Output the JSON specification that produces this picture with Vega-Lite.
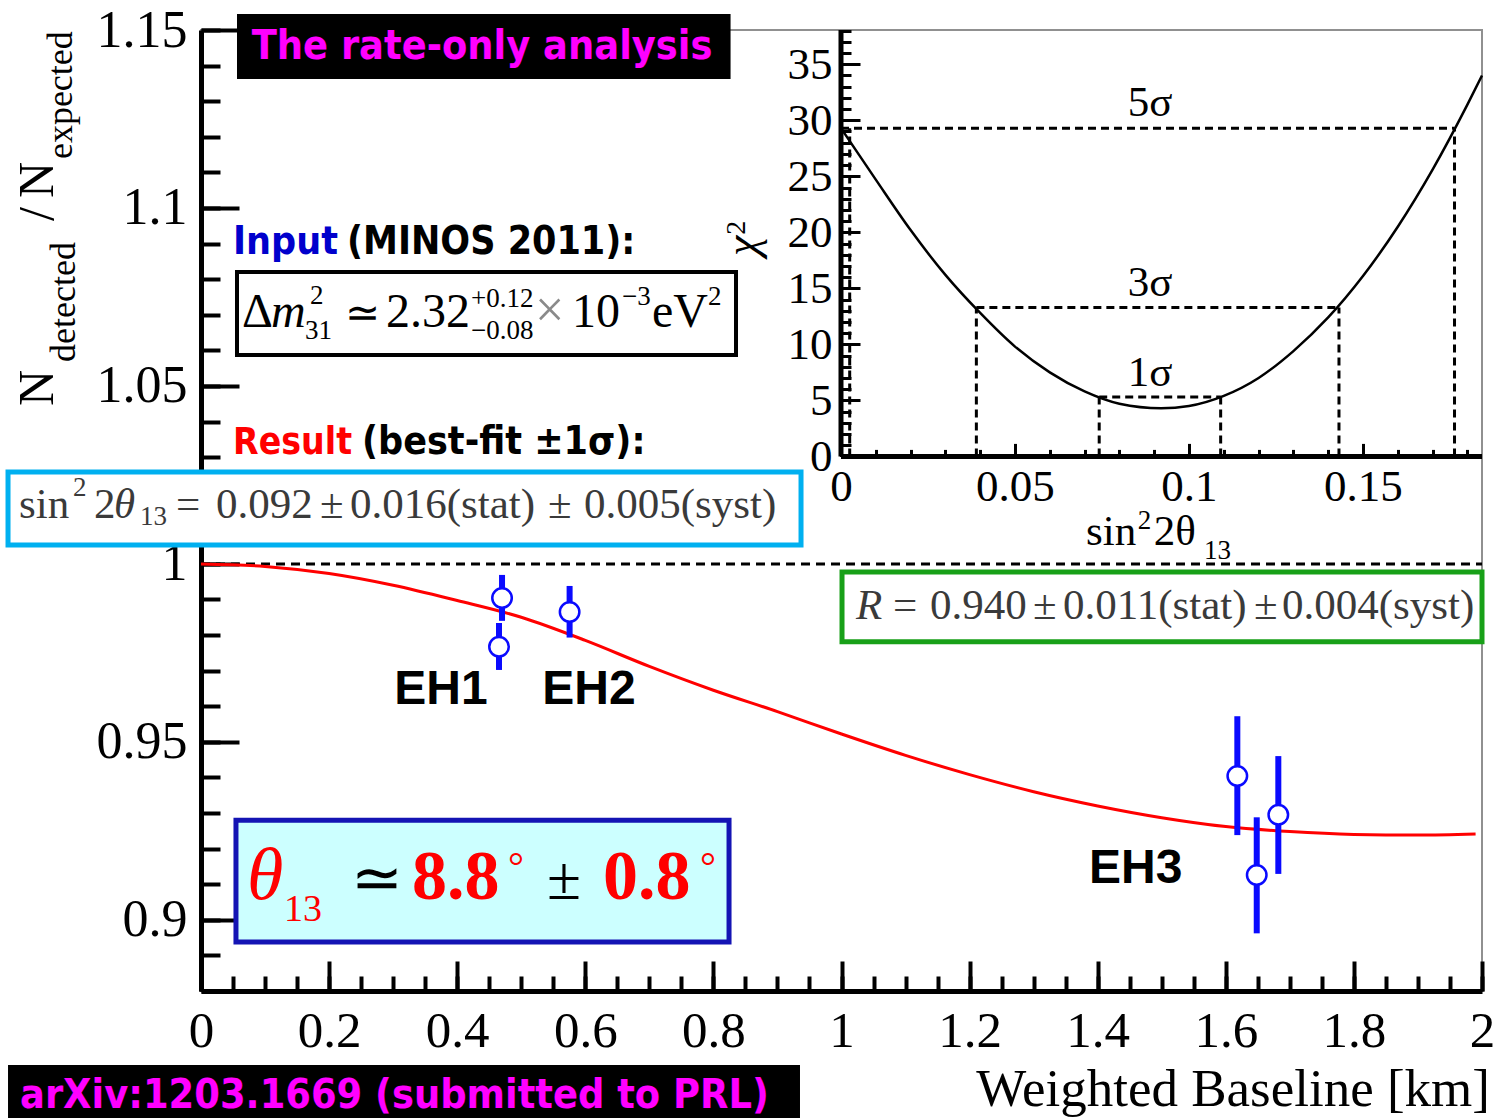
{
  "$schema": "https://vega.github.io/schema/vega-lite/v6.json",
  "width": 1281,
  "height": 961,
  "autosize": {"type": "none"},
  "padding": {"left": 201, "top": 30, "right": 19, "bottom": 127},
  "background": "white",
  "config": {
    "view": {"stroke": "#909090", "strokeWidth": 2},
    "axis": {"grid": false, "labelFlush": false, "labelOverlap": false, "labelBound": false, "title": null, "tickColor": "black", "domainColor": "black", "labelColor": "black", "labelExpr": "'' + datum.value"}
  },
  "resolve": {
    "scale": {"x": "independent", "y": "independent"},
    "axis": {"x": "independent", "y": "independent"}
  },
  "layer": [
    {
      "description": "reference line R = 1, carries the labelled main axes",
      "data": {"values": [{"x": 0, "x2": 2, "y": 1}]},
      "mark": {"type": "rule", "strokeDash": [9, 6], "strokeWidth": 3, "color": "black"},
      "encoding": {
        "x": {"field": "x", "type": "quantitative", "scale": {"domain": [0, 2], "nice": false, "zero": false},
          "axis": {"orient": "bottom", "values": [0, 0.2, 0.4, 0.6, 0.8, 1, 1.2, 1.4, 1.6, 1.8, 2], "ticks": false, "domain": true, "domainWidth": 5,
            "labelFont": "Liberation Serif", "labelFontSize": 51, "labelPadding": 15}},
        "x2": {"field": "x2"},
        "y": {"field": "y", "type": "quantitative", "scale": {"domain": [0.88, 1.15], "nice": false, "zero": false},
          "axis": {"orient": "left", "values": [0.9, 0.95, 1, 1.05, 1.1, 1.15], "ticks": false, "domain": true, "domainWidth": 5,
            "labelFont": "Liberation Serif", "labelFontSize": 52, "labelPadding": 14}}
      }
    },
    {
      "description": "averaged survival curve for the best fit, carries the major ticks",
      "data": {"values": [
        {"x": 0, "y": 1.0}, {"x": 0.1, "y": 0.9993}, {"x": 0.2, "y": 0.9973}, {"x": 0.3, "y": 0.994}, {"x": 0.4, "y": 0.9897},
        {"x": 0.5, "y": 0.985}, {"x": 0.6, "y": 0.9785}, {"x": 0.7, "y": 0.9712}, {"x": 0.8, "y": 0.9645}, {"x": 0.9, "y": 0.9585},
        {"x": 1.0, "y": 0.9522}, {"x": 1.1, "y": 0.9462}, {"x": 1.2, "y": 0.9408}, {"x": 1.3, "y": 0.936}, {"x": 1.4, "y": 0.932},
        {"x": 1.5, "y": 0.9287}, {"x": 1.6, "y": 0.9262}, {"x": 1.7, "y": 0.9248}, {"x": 1.8, "y": 0.924}, {"x": 1.9, "y": 0.9238},
        {"x": 1.99, "y": 0.9241}
      ]},
      "mark": {"type": "line", "color": "#ff0000", "strokeWidth": 3, "interpolate": "monotone"},
      "encoding": {
        "x": {"field": "x", "type": "quantitative", "scale": {"domain": [0, 2], "nice": false, "zero": false},
          "axis": {"orient": "bottom", "values": [0, 0.2, 0.4, 0.6, 0.8, 1, 1.2, 1.4, 1.6, 1.8, 2], "labels": false, "domain": false, "tickSize": -30, "tickWidth": 4}},
        "y": {"field": "y", "type": "quantitative", "scale": {"domain": [0.88, 1.15], "nice": false, "zero": false},
          "axis": {"orient": "left", "values": [0.9, 0.95, 1, 1.05, 1.1, 1.15], "labels": false, "domain": false, "tickSize": -38, "tickWidth": 4}}
      }
    },
    {
      "description": "error bars of the six detectors, carries the minor ticks",
      "data": {"name": "halls", "values": [
        {"ad": "AD1", "x": 0.4653, "y": 0.9767, "lo": 0.9702, "hi": 0.9834},
        {"ad": "AD2", "x": 0.47, "y": 0.9904, "lo": 0.984, "hi": 0.9969},
        {"ad": "AD3", "x": 0.5755, "y": 0.9865, "lo": 0.9793, "hi": 0.9938},
        {"ad": "AD4", "x": 1.618, "y": 0.9404, "lo": 0.9238, "hi": 0.9572},
        {"ad": "AD5", "x": 1.6483, "y": 0.9126, "lo": 0.8962, "hi": 0.9288},
        {"ad": "AD6", "x": 1.682, "y": 0.9295, "lo": 0.9129, "hi": 0.946}
      ]},
      "mark": {"type": "rule", "color": "#0a0aff", "strokeWidth": 6},
      "encoding": {
        "x": {"field": "x", "type": "quantitative", "scale": {"domain": [0, 2], "nice": false, "zero": false},
          "axis": {"orient": "bottom", "values": [0, 0.05, 0.1, 0.15, 0.2, 0.25, 0.3, 0.35, 0.4, 0.45, 0.5, 0.55, 0.6, 0.65, 0.7, 0.75, 0.8, 0.85, 0.9, 0.95, 1, 1.05, 1.1, 1.15, 1.2, 1.25, 1.3, 1.35, 1.4, 1.45, 1.5, 1.55, 1.6, 1.65, 1.7, 1.75, 1.8, 1.85, 1.9, 1.95, 2],
            "labels": false, "domain": false, "tickSize": -15, "tickWidth": 4}},
        "y": {"field": "lo", "type": "quantitative", "scale": {"domain": [0.88, 1.15], "nice": false, "zero": false},
          "axis": {"orient": "left", "values": [0.88, 0.89, 0.9, 0.91, 0.92, 0.93, 0.94, 0.95, 0.96, 0.97, 0.98, 0.99, 1, 1.01, 1.02, 1.03, 1.04, 1.05, 1.06, 1.07, 1.08, 1.09, 1.1, 1.11, 1.12, 1.13, 1.14, 1.15],
            "labels": false, "domain": false, "tickSize": -19, "tickWidth": 4}},
        "y2": {"field": "hi"}
      }
    },
    {
      "data": {"name": "halls"},
      "mark": {"type": "point", "shape": "circle", "filled": true, "fill": "white", "stroke": "#0a0aff", "strokeWidth": 2.5, "size": 380, "opacity": 1},
      "encoding": {
        "x": {"field": "x", "type": "quantitative", "scale": {"domain": [0, 2], "nice": false, "zero": false}, "axis": null},
        "y": {"field": "y", "type": "quantitative", "scale": {"domain": [0.88, 1.15], "nice": false, "zero": false}, "axis": null}
      }
    },
    {
      "description": "inset: chi-square profile, carries the labelled inset axes",
      "data": {"values": [
        {"s": 0, "chi2": 29.3}, {"s": 0.01, "chi2": 24.7}, {"s": 0.02, "chi2": 20.2}, {"s": 0.03, "chi2": 16.2}, {"s": 0.04, "chi2": 12.8},
        {"s": 0.05, "chi2": 9.8}, {"s": 0.06, "chi2": 7.5}, {"s": 0.07, "chi2": 5.8}, {"s": 0.08, "chi2": 4.7}, {"s": 0.092, "chi2": 4.3},
        {"s": 0.1, "chi2": 4.5}, {"s": 0.11, "chi2": 5.4}, {"s": 0.12, "chi2": 7.0}, {"s": 0.13, "chi2": 9.4}, {"s": 0.14, "chi2": 12.4},
        {"s": 0.15, "chi2": 16.1}, {"s": 0.16, "chi2": 20.5}, {"s": 0.17, "chi2": 25.6}, {"s": 0.18, "chi2": 31.4}, {"s": 0.1842, "chi2": 34.0}
      ]},
      "mark": {"type": "line", "color": "black", "strokeWidth": 2.5, "interpolate": "monotone"},
      "encoding": {
        "x": {"field": "s", "type": "quantitative", "scale": {"domain": [-0.18391, 0.1842], "nice": false, "zero": false},
          "axis": {"orient": "bottom", "offset": -534.6, "values": [0, 0.05, 0.1, 0.15], "ticks": false, "domain": false,
            "labelFont": "Liberation Serif", "labelFontSize": 45, "labelPadding": 8}},
        "y": {"field": "chi2", "type": "quantitative", "scale": {"domain": [-47.72, 38.06], "nice": false, "zero": false},
          "axis": {"orient": "left", "offset": -640, "values": [0, 5, 10, 15, 20, 25, 30, 35], "ticks": false, "domain": false,
            "labelFont": "Liberation Serif", "labelFontSize": 45, "labelPadding": 9}}
      }
    },
    {
      "description": "inset: 1, 3 and 5 sigma levels, carries the inset major ticks",
      "data": {"values": [
        {"level": "5σ", "x": 0, "x2": 0.1763, "y": 29.3},
        {"level": "3σ", "x": 0.0389, "x2": 0.1431, "y": 13.3},
        {"level": "1σ", "x": 0.0742, "x2": 0.1091, "y": 5.3}
      ]},
      "mark": {"type": "rule", "color": "black", "strokeWidth": 3, "strokeDash": [8, 5]},
      "encoding": {
        "x": {"field": "x", "type": "quantitative", "scale": {"domain": [-0.18391, 0.1842], "nice": false, "zero": false},
          "axis": {"orient": "bottom", "offset": -534.6, "values": [0, 0.05, 0.1, 0.15], "labels": false, "domain": false, "tickSize": -13, "tickWidth": 3}},
        "x2": {"field": "x2"},
        "y": {"field": "y", "type": "quantitative", "scale": {"domain": [-47.72, 38.06], "nice": false, "zero": false},
          "axis": {"orient": "left", "offset": -640, "values": [0, 5, 10, 15, 20, 25, 30, 35], "labels": false, "domain": false, "tickSize": -19, "tickWidth": 3}}
      }
    },
    {
      "description": "inset: interval edges, carries the inset minor ticks",
      "data": {"values": [
        {"x": 0.0025, "y": 0, "y2": 29.3}, {"x": 0.0389, "y": 0, "y2": 13.3}, {"x": 0.0742, "y": 0, "y2": 5.3},
        {"x": 0.1091, "y": 0, "y2": 5.3}, {"x": 0.1431, "y": 0, "y2": 13.3}, {"x": 0.1763, "y": 0, "y2": 29.3}
      ]},
      "mark": {"type": "rule", "color": "black", "strokeWidth": 3, "strokeDash": [8, 5]},
      "encoding": {
        "x": {"field": "x", "type": "quantitative", "scale": {"domain": [-0.18391, 0.1842], "nice": false, "zero": false},
          "axis": {"orient": "bottom", "offset": -534.6, "values": [0, 0.01, 0.02, 0.03, 0.04, 0.05, 0.06, 0.07, 0.08, 0.09, 0.1, 0.11, 0.12, 0.13, 0.14, 0.15, 0.16, 0.17, 0.18],
            "labels": false, "domain": false, "tickSize": -7, "tickWidth": 3}},
        "y": {"field": "y", "type": "quantitative", "scale": {"domain": [-47.72, 38.06], "nice": false, "zero": false},
          "axis": {"orient": "left", "offset": -640, "values": [0, 1, 2, 3, 4, 5, 6, 7, 8, 9, 10, 11, 12, 13, 14, 15, 16, 17, 18, 19, 20, 21, 22, 23, 24, 25, 26, 27, 28, 29, 30, 31, 32, 33, 34, 35, 36, 37, 38],
            "labels": false, "domain": false, "tickSize": -10, "tickWidth": 3}},
        "y2": {"field": "y2"}
      }
    },
    {
      "description": "inset: axis lines",
      "data": {"values": [{"x": 0, "x2": 0, "y": 0, "y2": 38.06}, {"x": 0, "x2": 0.1842, "y": 0, "y2": 0}]},
      "mark": {"type": "rule", "color": "black", "strokeWidth": 5},
      "encoding": {
        "x": {"field": "x", "type": "quantitative", "scale": {"domain": [-0.18391, 0.1842], "nice": false, "zero": false}, "axis": null},
        "x2": {"field": "x2"},
        "y": {"field": "y", "type": "quantitative", "scale": {"domain": [-47.72, 38.06], "nice": false, "zero": false}, "axis": null},
        "y2": {"field": "y2"}
      }
    },
    {
      "data": {"values": [{"t": "5σ", "x": 0.0888, "y": 30.4}, {"t": "3σ", "x": 0.0888, "y": 14.3}, {"t": "1σ", "x": 0.0888, "y": 6.3}]},
      "mark": {"type": "text", "font": "Liberation Serif", "fontSize": 43, "align": "center", "baseline": "alphabetic", "color": "black"},
      "encoding": {
        "x": {"field": "x", "type": "quantitative", "scale": {"domain": [-0.18391, 0.1842], "nice": false, "zero": false}, "axis": null},
        "y": {"field": "y", "type": "quantitative", "scale": {"domain": [-47.72, 38.06], "nice": false, "zero": false}, "axis": null},
        "text": {"field": "t"}
      }
    },
    {
      "data": {"values": [{"t": "χ", "x": -0.0241, "y": 18.8}]},
      "mark": {"type": "text", "font": "Liberation Serif", "fontStyle": "italic", "fontSize": 46, "align": "center", "baseline": "alphabetic", "angle": 270, "color": "black"},
      "encoding": {
        "x": {"field": "x", "type": "quantitative", "scale": {"domain": [-0.18391, 0.1842], "nice": false, "zero": false}, "axis": null},
        "y": {"field": "y", "type": "quantitative", "scale": {"domain": [-47.72, 38.06], "nice": false, "zero": false}, "axis": null},
        "text": {"field": "t"}
      }
    },
    {
      "data": {"values": [{"t": "2", "x": -0.0276, "y": 20.4}]},
      "mark": {"type": "text", "font": "Liberation Serif", "fontSize": 28, "align": "center", "baseline": "alphabetic", "angle": 270, "color": "black"},
      "encoding": {
        "x": {"field": "x", "type": "quantitative", "scale": {"domain": [-0.18391, 0.1842], "nice": false, "zero": false}, "axis": null},
        "y": {"field": "y", "type": "quantitative", "scale": {"domain": [-47.72, 38.06], "nice": false, "zero": false}, "axis": null},
        "text": {"field": "t"}
      }
    },
    {
      "data": {"values": [{"t": "sin", "x": 0.0704, "y": -7.95}, {"t": "2θ", "x": 0.0899, "y": -7.95}]},
      "mark": {"type": "text", "font": "Liberation Serif", "fontSize": 43, "align": "left", "baseline": "alphabetic", "color": "black"},
      "encoding": {
        "x": {"field": "x", "type": "quantitative", "scale": {"domain": [-0.18391, 0.1842], "nice": false, "zero": false}, "axis": null},
        "y": {"field": "y", "type": "quantitative", "scale": {"domain": [-47.72, 38.06], "nice": false, "zero": false}, "axis": null},
        "text": {"field": "t"}
      }
    },
    {
      "data": {"values": [{"t": "2", "x": 0.0853, "y": -6.5}, {"t": "13", "x": 0.1043, "y": -9.2}]},
      "mark": {"type": "text", "font": "Liberation Serif", "fontSize": 27, "align": "left", "baseline": "alphabetic", "color": "black"},
      "encoding": {
        "x": {"field": "x", "type": "quantitative", "scale": {"domain": [-0.18391, 0.1842], "nice": false, "zero": false}, "axis": null},
        "y": {"field": "y", "type": "quantitative", "scale": {"domain": [-47.72, 38.06], "nice": false, "zero": false}, "axis": null},
        "text": {"field": "t"}
      }
    },
    {
      "description": "black banners",
      "data": {"values": [{"x": 0.0562, "x2": 0.8268, "y": 1.1545, "y2": 1.1362}, {"x": -0.3013, "x2": 0.9352, "y": 0.8592, "y2": 0.84}]},
      "mark": {"type": "rect", "color": "black"},
      "encoding": {
        "x": {"field": "x", "type": "quantitative", "scale": {"domain": [0, 2], "nice": false, "zero": false}, "axis": null},
        "x2": {"field": "x2"},
        "y": {"field": "y", "type": "quantitative", "scale": {"domain": [0.88, 1.15], "nice": false, "zero": false}, "axis": null},
        "y2": {"field": "y2"}
      }
    },
    {
      "data": {"values": [{"x": 0.0562, "x2": 0.8353, "y": 1.082, "y2": 1.0587}]},
      "mark": {"type": "rect", "fill": "white", "stroke": "black", "strokeWidth": 4},
      "encoding": {
        "x": {"field": "x", "type": "quantitative", "scale": {"domain": [0, 2], "nice": false, "zero": false}, "axis": null},
        "x2": {"field": "x2"},
        "y": {"field": "y", "type": "quantitative", "scale": {"domain": [0.88, 1.15], "nice": false, "zero": false}, "axis": null},
        "y2": {"field": "y2"}
      }
    },
    {
      "data": {"values": [{"x": -0.3013, "x2": 0.9368, "y": 1.0258, "y2": 1.0053}]},
      "mark": {"type": "rect", "fill": "white", "stroke": "#00b0f0", "strokeWidth": 5},
      "encoding": {
        "x": {"field": "x", "type": "quantitative", "scale": {"domain": [0, 2], "nice": false, "zero": false}, "axis": null},
        "x2": {"field": "x2"},
        "y": {"field": "y", "type": "quantitative", "scale": {"domain": [0.88, 1.15], "nice": false, "zero": false}, "axis": null},
        "y2": {"field": "y2"}
      }
    },
    {
      "data": {"values": [{"x": 1.0008, "x2": 2.0, "y": 0.9977, "y2": 0.9781}]},
      "mark": {"type": "rect", "fill": "white", "stroke": "#18a018", "strokeWidth": 5},
      "encoding": {
        "x": {"field": "x", "type": "quantitative", "scale": {"domain": [0, 2], "nice": false, "zero": false}, "axis": null},
        "x2": {"field": "x2"},
        "y": {"field": "y", "type": "quantitative", "scale": {"domain": [0.88, 1.15], "nice": false, "zero": false}, "axis": null},
        "y2": {"field": "y2"}
      }
    },
    {
      "data": {"values": [{"x": 0.0546, "x2": 0.8244, "y": 0.928, "y2": 0.8938}]},
      "mark": {"type": "rect", "fill": "#ccffff", "stroke": "#1414b4", "strokeWidth": 5},
      "encoding": {
        "x": {"field": "x", "type": "quantitative", "scale": {"domain": [0, 2], "nice": false, "zero": false}, "axis": null},
        "x2": {"field": "x2"},
        "y": {"field": "y", "type": "quantitative", "scale": {"domain": [0.88, 1.15], "nice": false, "zero": false}, "axis": null},
        "y2": {"field": "y2"}
      }
    },
    {
      "description": "magenta captions",
      "data": {"values": [{"t": "The rate-only analysis", "x": 0.4387, "y": 1.1419}]},
      "mark": {"type": "text", "font": "DejaVu Sans Condensed", "fontWeight": "bold", "fontSize": 41, "align": "center", "baseline": "alphabetic", "color": "#ff00ff"},
      "encoding": {
        "x": {"field": "x", "type": "quantitative", "scale": {"domain": [0, 2], "nice": false, "zero": false}, "axis": null},
        "y": {"field": "y", "type": "quantitative", "scale": {"domain": [0.88, 1.15], "nice": false, "zero": false}, "axis": null},
        "text": {"field": "t"}
      }
    },
    {
      "data": {"values": [{"t": "arXiv:1203.1669 (submitted to PRL)", "x": -0.2826, "y": 0.8472}]},
      "mark": {"type": "text", "font": "DejaVu Sans Condensed", "fontWeight": "bold", "fontSize": 41, "align": "left", "baseline": "alphabetic", "color": "#ff00ff"},
      "encoding": {
        "x": {"field": "x", "type": "quantitative", "scale": {"domain": [0, 2], "nice": false, "zero": false}, "axis": null},
        "y": {"field": "y", "type": "quantitative", "scale": {"domain": [0.88, 1.15], "nice": false, "zero": false}, "axis": null},
        "text": {"field": "t"}
      }
    },
    {
      "data": {"values": [{"t": "Input", "x": 0.05, "y": 1.0872}]},
      "mark": {"type": "text", "font": "DejaVu Sans Condensed", "fontWeight": "bold", "fontSize": 39, "align": "left", "baseline": "alphabetic", "color": "#0000cc"},
      "encoding": {
        "x": {"field": "x", "type": "quantitative", "scale": {"domain": [0, 2], "nice": false, "zero": false}, "axis": null},
        "y": {"field": "y", "type": "quantitative", "scale": {"domain": [0.88, 1.15], "nice": false, "zero": false}, "axis": null},
        "text": {"field": "t"}
      }
    },
    {
      "data": {"values": [{"t": "Result", "x": 0.05, "y": 1.031}]},
      "mark": {"type": "text", "font": "DejaVu Sans Condensed", "fontWeight": "bold", "fontSize": 37, "align": "left", "baseline": "alphabetic", "color": "#ff0000"},
      "encoding": {
        "x": {"field": "x", "type": "quantitative", "scale": {"domain": [0, 2], "nice": false, "zero": false}, "axis": null},
        "y": {"field": "y", "type": "quantitative", "scale": {"domain": [0.88, 1.15], "nice": false, "zero": false}, "axis": null},
        "text": {"field": "t"}
      }
    },
    {
      "data": {"values": [{"t": "(MINOS 2011):", "x": 0.2279, "y": 1.0872}, {"t": "(best-fit ±1σ):", "x": 0.2514, "y": 1.031}]},
      "mark": {"type": "text", "font": "DejaVu Sans Condensed", "fontWeight": "bold", "fontSize": 39, "align": "left", "baseline": "alphabetic", "color": "black"},
      "encoding": {
        "x": {"field": "x", "type": "quantitative", "scale": {"domain": [0, 2], "nice": false, "zero": false}, "axis": null},
        "y": {"field": "y", "type": "quantitative", "scale": {"domain": [0.88, 1.15], "nice": false, "zero": false}, "axis": null},
        "text": {"field": "t"}
      }
    },
    {
      "description": "hall labels",
      "data": {"values": [{"t": "EH1", "x": 0.3747, "y": 0.9606}, {"t": "EH2", "x": 0.6058, "y": 0.9606}, {"t": "EH3", "x": 1.4593, "y": 0.9103}]},
      "mark": {"type": "text", "font": "Liberation Sans", "fontWeight": "bold", "fontSize": 48, "align": "center", "baseline": "alphabetic", "color": "black"},
      "encoding": {
        "x": {"field": "x", "type": "quantitative", "scale": {"domain": [0, 2], "nice": false, "zero": false}, "axis": null},
        "y": {"field": "y", "type": "quantitative", "scale": {"domain": [0.88, 1.15], "nice": false, "zero": false}, "axis": null},
        "text": {"field": "t"}
      }
    },
    {
      "description": "mass splitting input: full-size pieces",
      "data": {"values": [{"t": "Δ", "x": 0.064, "y": 1.0666}, {"t": "2.32", "x": 0.2889, "y": 1.0666}, {"t": "10", "x": 0.5792, "y": 1.0666}, {"t": "eV", "x": 0.7041, "y": 1.0666}]},
      "mark": {"type": "text", "font": "Liberation Serif", "fontSize": 48, "align": "left", "baseline": "alphabetic", "color": "black"},
      "encoding": {
        "x": {"field": "x", "type": "quantitative", "scale": {"domain": [0, 2], "nice": false, "zero": false}, "axis": null},
        "y": {"field": "y", "type": "quantitative", "scale": {"domain": [0.88, 1.15], "nice": false, "zero": false}, "axis": null},
        "text": {"field": "t"}
      }
    },
    {
      "data": {"values": [{"t": "≃", "x": 0.2248, "y": 1.0666}]},
      "mark": {"type": "text", "font": "Liberation Serif", "fontSize": 42, "align": "left", "baseline": "alphabetic", "color": "black"},
      "encoding": {
        "x": {"field": "x", "type": "quantitative", "scale": {"domain": [0, 2], "nice": false, "zero": false}, "axis": null},
        "y": {"field": "y", "type": "quantitative", "scale": {"domain": [0.88, 1.15], "nice": false, "zero": false}, "axis": null},
        "text": {"field": "t"}
      }
    },
    {
      "data": {"values": [{"t": "m", "x": 0.1093, "y": 1.0666}]},
      "mark": {"type": "text", "font": "Liberation Serif", "fontStyle": "italic", "fontSize": 48, "align": "left", "baseline": "alphabetic", "color": "black"},
      "encoding": {
        "x": {"field": "x", "type": "quantitative", "scale": {"domain": [0, 2], "nice": false, "zero": false}, "axis": null},
        "y": {"field": "y", "type": "quantitative", "scale": {"domain": [0.88, 1.15], "nice": false, "zero": false}, "axis": null},
        "text": {"field": "t"}
      }
    },
    {
      "data": {"values": [{"t": "×", "x": 0.5215, "y": 1.0666}]},
      "mark": {"type": "text", "font": "Liberation Serif", "fontSize": 52, "align": "left", "baseline": "alphabetic", "color": "#8a8a8a"},
      "encoding": {
        "x": {"field": "x", "type": "quantitative", "scale": {"domain": [0, 2], "nice": false, "zero": false}, "axis": null},
        "y": {"field": "y", "type": "quantitative", "scale": {"domain": [0.88, 1.15], "nice": false, "zero": false}, "axis": null},
        "text": {"field": "t"}
      }
    },
    {
      "description": "mass splitting input: superscripts and subscripts",
      "data": {"values": [
        {"t": "2", "x": 0.1702, "y": 1.073}, {"t": "31", "x": 0.1624, "y": 1.0632},
        {"t": "+0.12", "x": 0.4215, "y": 1.0722}, {"t": "−0.08", "x": 0.4215, "y": 1.0632},
        {"t": "−3", "x": 0.6573, "y": 1.0727}, {"t": "2", "x": 0.7916, "y": 1.0727}
      ]},
      "mark": {"type": "text", "font": "Liberation Serif", "fontSize": 27, "align": "left", "baseline": "alphabetic", "color": "black"},
      "encoding": {
        "x": {"field": "x", "type": "quantitative", "scale": {"domain": [0, 2], "nice": false, "zero": false}, "axis": null},
        "y": {"field": "y", "type": "quantitative", "scale": {"domain": [0.88, 1.15], "nice": false, "zero": false}, "axis": null},
        "text": {"field": "t"}
      }
    },
    {
      "description": "fitted mixing and ratio results",
      "data": {"values": [
        {"t": "sin", "x": -0.2842, "y": 1.0129}, {"t": "2", "x": -0.1671, "y": 1.0129},
        {"t": "=", "x": -0.039, "y": 1.0129}, {"t": "0.092", "x": 0.0234, "y": 1.0129}, {"t": "±", "x": 0.1858, "y": 1.0129},
        {"t": "0.016(stat)", "x": 0.2326, "y": 1.0129}, {"t": "±", "x": 0.5418, "y": 1.0129}, {"t": "0.005(syst)", "x": 0.598, "y": 1.0129},
        {"t": "=", "x": 1.0804, "y": 0.9845}, {"t": "0.940", "x": 1.1382, "y": 0.9845}, {"t": "±", "x": 1.299, "y": 0.9845},
        {"t": "0.011(stat)", "x": 1.3458, "y": 0.9845}, {"t": "±", "x": 1.644, "y": 0.9845}, {"t": "0.004(syst)", "x": 1.6878, "y": 0.9845}
      ]},
      "mark": {"type": "text", "font": "Liberation Serif", "fontSize": 43, "align": "left", "baseline": "alphabetic", "color": "#3a3a3a"},
      "encoding": {
        "x": {"field": "x", "type": "quantitative", "scale": {"domain": [0, 2], "nice": false, "zero": false}, "axis": null},
        "y": {"field": "y", "type": "quantitative", "scale": {"domain": [0.88, 1.15], "nice": false, "zero": false}, "axis": null},
        "text": {"field": "t"}
      }
    },
    {
      "data": {"values": [{"t": "θ", "x": -0.1358, "y": 1.0129}, {"t": "R", "x": 1.0226, "y": 0.9845}]},
      "mark": {"type": "text", "font": "Liberation Serif", "fontStyle": "italic", "fontSize": 43, "align": "left", "baseline": "alphabetic", "color": "#3a3a3a"},
      "encoding": {
        "x": {"field": "x", "type": "quantitative", "scale": {"domain": [0, 2], "nice": false, "zero": false}, "axis": null},
        "y": {"field": "y", "type": "quantitative", "scale": {"domain": [0.88, 1.15], "nice": false, "zero": false}, "axis": null},
        "text": {"field": "t"}
      }
    },
    {
      "data": {"values": [{"t": "2", "x": -0.1998, "y": 1.0191}, {"t": "13", "x": -0.0952, "y": 1.0109}]},
      "mark": {"type": "text", "font": "Liberation Serif", "fontSize": 27, "align": "left", "baseline": "alphabetic", "color": "#3a3a3a"},
      "encoding": {
        "x": {"field": "x", "type": "quantitative", "scale": {"domain": [0, 2], "nice": false, "zero": false}, "axis": null},
        "y": {"field": "y", "type": "quantitative", "scale": {"domain": [0.88, 1.15], "nice": false, "zero": false}, "axis": null},
        "text": {"field": "t"}
      }
    },
    {
      "description": "mixing angle statement",
      "data": {"values": [{"t": "θ", "x": 0.0718, "y": 0.9059}]},
      "mark": {"type": "text", "font": "Liberation Serif", "fontStyle": "italic", "fontSize": 74, "align": "left", "baseline": "alphabetic", "color": "#ff0000"},
      "encoding": {
        "x": {"field": "x", "type": "quantitative", "scale": {"domain": [0, 2], "nice": false, "zero": false}, "axis": null},
        "y": {"field": "y", "type": "quantitative", "scale": {"domain": [0.88, 1.15], "nice": false, "zero": false}, "axis": null},
        "text": {"field": "t"}
      }
    },
    {
      "data": {"values": [{"t": "13", "x": 0.1296, "y": 0.8996}]},
      "mark": {"type": "text", "font": "Liberation Serif", "fontSize": 38, "align": "left", "baseline": "alphabetic", "color": "#ff0000"},
      "encoding": {
        "x": {"field": "x", "type": "quantitative", "scale": {"domain": [0, 2], "nice": false, "zero": false}, "axis": null},
        "y": {"field": "y", "type": "quantitative", "scale": {"domain": [0.88, 1.15], "nice": false, "zero": false}, "axis": null},
        "text": {"field": "t"}
      }
    },
    {
      "data": {"values": [{"t": "≃", "x": 0.2342, "y": 0.9059}, {"t": "±", "x": 0.5402, "y": 0.9059}]},
      "mark": {"type": "text", "font": "Liberation Serif", "fontSize": 62, "align": "left", "baseline": "alphabetic", "color": "black"},
      "encoding": {
        "x": {"field": "x", "type": "quantitative", "scale": {"domain": [0, 2], "nice": false, "zero": false}, "axis": null},
        "y": {"field": "y", "type": "quantitative", "scale": {"domain": [0.88, 1.15], "nice": false, "zero": false}, "axis": null},
        "text": {"field": "t"}
      }
    },
    {
      "data": {"values": [{"t": "8.8", "x": 0.3294, "y": 0.9059}, {"t": "0.8", "x": 0.6276, "y": 0.9059}]},
      "mark": {"type": "text", "font": "Liberation Serif", "fontWeight": "bold", "fontSize": 70, "align": "left", "baseline": "alphabetic", "color": "#ff0000"},
      "encoding": {
        "x": {"field": "x", "type": "quantitative", "scale": {"domain": [0, 2], "nice": false, "zero": false}, "axis": null},
        "y": {"field": "y", "type": "quantitative", "scale": {"domain": [0.88, 1.15], "nice": false, "zero": false}, "axis": null},
        "text": {"field": "t"}
      }
    },
    {
      "data": {"values": [{"t": "°", "x": 0.4793, "y": 0.9112}, {"t": "°", "x": 0.7791, "y": 0.9112}]},
      "mark": {"type": "text", "font": "Liberation Serif", "fontSize": 40, "align": "left", "baseline": "alphabetic", "color": "#ff0000"},
      "encoding": {
        "x": {"field": "x", "type": "quantitative", "scale": {"domain": [0, 2], "nice": false, "zero": false}, "axis": null},
        "y": {"field": "y", "type": "quantitative", "scale": {"domain": [0.88, 1.15], "nice": false, "zero": false}, "axis": null},
        "text": {"field": "t"}
      }
    },
    {
      "description": "axis titles",
      "data": {"values": [{"t": "Weighted Baseline [km]", "x": 2.0125, "y": 0.8477}]},
      "mark": {"type": "text", "font": "Liberation Serif", "fontSize": 53, "align": "right", "baseline": "alphabetic", "color": "black"},
      "encoding": {
        "x": {"field": "x", "type": "quantitative", "scale": {"domain": [0, 2], "nice": false, "zero": false}, "axis": null},
        "y": {"field": "y", "type": "quantitative", "scale": {"domain": [0.88, 1.15], "nice": false, "zero": false}, "axis": null},
        "text": {"field": "t"}
      }
    },
    {
      "data": {"values": [{"t": "N", "x": -0.2311, "y": 1.0494}, {"t": "/", "x": -0.2311, "y": 1.0983}, {"t": "N", "x": -0.2311, "y": 1.1079}]},
      "mark": {"type": "text", "font": "Liberation Serif", "fontSize": 50, "align": "center", "baseline": "alphabetic", "angle": 270, "color": "black"},
      "encoding": {
        "x": {"field": "x", "type": "quantitative", "scale": {"domain": [0, 2], "nice": false, "zero": false}, "axis": null},
        "y": {"field": "y", "type": "quantitative", "scale": {"domain": [0.88, 1.15], "nice": false, "zero": false}, "axis": null},
        "text": {"field": "t"}
      }
    },
    {
      "data": {"values": [{"t": "detected", "x": -0.1967, "y": 1.0736}, {"t": "expected", "x": -0.2014, "y": 1.1317}]},
      "mark": {"type": "text", "font": "Liberation Serif", "fontSize": 36, "align": "center", "baseline": "alphabetic", "angle": 270, "color": "black"},
      "encoding": {
        "x": {"field": "x", "type": "quantitative", "scale": {"domain": [0, 2], "nice": false, "zero": false}, "axis": null},
        "y": {"field": "y", "type": "quantitative", "scale": {"domain": [0.88, 1.15], "nice": false, "zero": false}, "axis": null},
        "text": {"field": "t"}
      }
    }
  ]
}
